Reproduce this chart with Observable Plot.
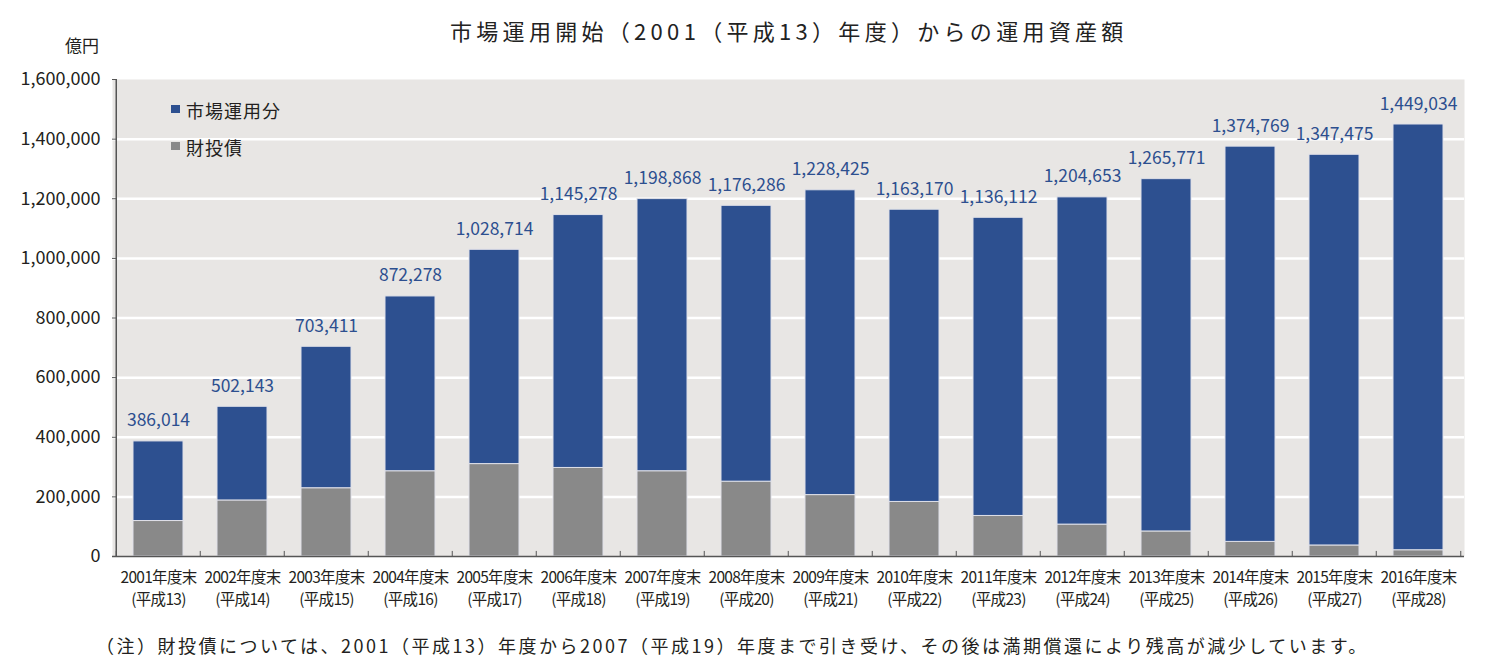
<!DOCTYPE html>
<html><head><meta charset="utf-8">
<script src="https://cdn.jsdelivr.net/npm/d3@7"></script>
<script src="https://cdn.jsdelivr.net/npm/@observablehq/plot@0.6"></script>
<style>
body{margin:0;background:#fff;font-family:"Noto Sans CJK JP","Noto Sans",sans-serif;color:#231f20}
#wrap{position:relative;width:1493px;height:671px;overflow:hidden}
#chart{position:absolute;left:0;top:0}
.abs{position:absolute;white-space:nowrap;line-height:1}
#title{left:450px;top:19px;font-size:22px;letter-spacing:4.3px;color:#222}
#unit{left:65px;top:36px;font-size:17px}
#note{left:96px;top:636px;font-size:18px;letter-spacing:2.5px}
.sw{position:absolute;width:9px;height:8px}
.lt{font-size:18px;letter-spacing:1px}
#chart g[aria-label="x-axis tick label"] text{letter-spacing:-0.7px}
</style></head><body>
<div id="wrap">
  <div id="chart"></div>
  <div class="abs" id="title">市場運用開始（2001（平成13）年度）からの運用資産額</div>
  <div class="abs" id="unit">億円</div>
  <div class="sw" id="sw1" style="left:171px;top:105px"></div>
  <div class="abs lt" id="lt1" style="left:186px;top:101px"></div>
  <div class="sw" id="sw2" style="left:171px;top:142px"></div>
  <div class="abs lt" id="lt2" style="left:186px;top:138px"></div>
  <div class="abs" id="note">（注）財投債については、2001（平成13）年度から2007（平成19）年度まで引き受け、その後は満期償還により残高が減少しています。</div>
</div>
<script>
const years = ["2001","2002","2003","2004","2005","2006","2007","2008","2009","2010","2011","2012","2013","2014","2015","2016"];
const heisei = ["13","14","15","16","17","18","19","20","21","22","23","24","25","26","27","28"];
const totals = [386014, 502143, 703411, 872278, 1028714, 1145278, 1198868, 1176286, 1228425, 1163170, 1136112, 1204653, 1265771, 1374769, 1347475, 1449034];
const zaitou = [119000, 188000, 229000, 286000, 310000, 297000, 286000, 251000, 206000, 183000, 136000, 107000, 84000, 49000, 37000, 21000];
const market = [267014, 314143, 474411, 586278, 718714, 848278, 912868, 925286, 1022425, 980170, 1000112, 1097653, 1181771, 1325769, 1310475, 1428034];
const seriesNames = ["財投債", "市場運用分"];
const seriesColors = ["#898989", "#2d5090"];
const yTicks = [0, 200000, 400000, 600000, 800000, 1000000, 1200000, 1400000, 1600000];

const table = years.flatMap((yr, i) => [
  {year: yr, series: seriesNames[0], value: zaitou[i]},
  {year: yr, series: seriesNames[1], value: market[i]}
]);
const labels = years.map((yr, i) => ({year: yr, total: totals[i]}));

const W = 1493, H = 671, mL = 112, mR = 29, mT = 79, mB = 115;
const step = (W - mL - mR) / years.length;
const axisColor = "#555";

const chart = Plot.plot({
  width: W, height: H,
  marginTop: mT, marginBottom: mB, marginLeft: mL, marginRight: mR,
  style: {fontFamily: '"Noto Sans CJK JP", "Noto Sans", sans-serif', background: "transparent", color: "#231f20"},
  x: {domain: years, paddingInner: 0.4, paddingOuter: 0.2, label: null},
  y: {domain: [0, 1600000], label: null},
  color: {domain: seriesNames, range: seriesColors},
  marks: [
    Plot.frame({fill: "#e8e6e4", stroke: null}),
    Plot.gridY(yTicks.filter(v => v > 0 && v < 1600000), {stroke: "#fff", strokeOpacity: 1, strokeWidth: 2.5}),
    Plot.barY(table, {x: "year", y: "value", fill: "series", order: seriesNames, stroke: "#dfe0e8", strokeWidth: 1}),
    Plot.text(labels, {x: "year", y: "total", text: d => d3.format(",")(d.total), lineAnchor: "bottom", dy: -15, fill: "#2d4f8f", fontSize: 17.5}),
    Plot.ruleY([0], {stroke: axisColor, strokeWidth: 1.5}),
    Plot.ruleX([years[0]], {x: d => d, dx: -step / 2, y1: 0, y2: 1600000, stroke: axisColor, strokeWidth: 1.5}),
    Plot.ruleX(years, {x: d => d, dx: -step / 2, y1: 0, y2: 17000, stroke: axisColor}),
    Plot.ruleX([years[years.length - 1]], {x: d => d, dx: step / 2, y1: 0, y2: 17000, stroke: axisColor}),
    Plot.axisY({ticks: yTicks, tickFormat: d3.format(","), tickSize: -5, tickPadding: 17, fontSize: 18, stroke: axisColor}),
    Plot.axisX({tickSize: 0, tickPadding: 11, fontSize: 15.5, lineHeight: 1.42,
      tickFormat: (d) => `${d}年度末\n(平成${heisei[years.indexOf(d)]})`})
  ]
});
document.getElementById("chart").appendChild(chart);

document.getElementById("sw1").style.background = seriesColors[1];
document.getElementById("lt1").textContent = seriesNames[1];
document.getElementById("sw2").style.background = seriesColors[0];
document.getElementById("lt2").textContent = seriesNames[0];
</script>
</body></html>
